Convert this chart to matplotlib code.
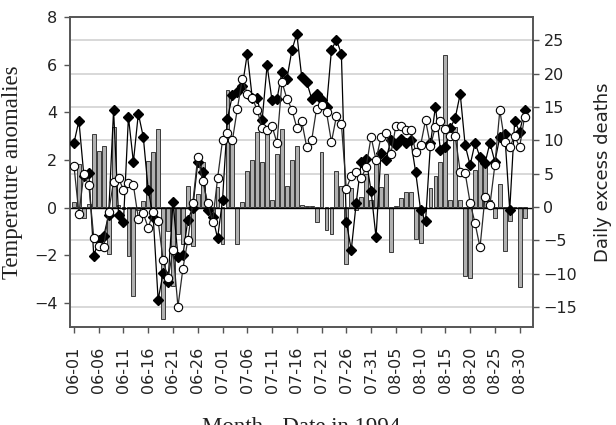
import matplotlib
matplotlib.use('Agg')
import matplotlib.pyplot as plt
import numpy as np

# ---- data ----
tick_labels = ['06-01', '06-06', '06-11', '06-16', '06-21', '06-26', '07-01',
               '07-06', '07-11', '07-16', '07-21', '07-26', '07-31', '08-05',
               '08-10', '08-15', '08-20', '08-25', '08-30']

# temperature anomaly series 1 (black diamonds), 06-01 .. 08-31
temp_black = [2.72, 3.65, 1.35, 1.45, -2.02, -1.35, -1.2, -0.3, 4.09, -0.3,
              -0.58, 3.81, 1.92, 3.95, 2.97, 0.74, -0.38, -3.86, -2.75, -3.1,
              0.25, -2.05, -2.0, -0.5, 0.0, 1.9, 1.5, -0.1, -0.37, -1.28,
              0.32, 3.74, 4.72, 4.85, 5.1, 6.46, 4.62, 4.6, 3.67, 5.97,
              4.5, 4.55, 5.7, 5.4, 6.6, 7.3, 5.48, 5.27, 4.58, 4.79,
              4.5, 4.23, 6.62, 7.04, 6.46, -0.59, -1.77, 0.2, 1.9, 2.05,
              0.7, -1.24, 2.3, 2.02, 2.83, 2.62, 2.9, 2.7, 2.83, 1.5,
              -0.1, -0.57, 2.7, 4.24, 2.43, 2.55, 3.34, 3.77, 4.78, 2.62,
              1.79, 2.72, 2.13, 1.86, 2.72, 1.93, 2.97, 3.11, -0.1, 3.64,
              3.18, 4.09]

# temperature anomaly series 2 (white circles)
temp_white = [1.76, -0.26, 1.41, 0.95, -1.25, -1.6, -1.65, -0.17, 1.1, 1.25,
              0.74, 1.05, 0.95, -0.45, -0.24, -0.84, -0.17, -0.56, -2.19, -2.95,
              -1.77, -4.15, -2.55, -1.35, 0.21, 2.13, 1.12, 0.21, -0.58, 1.23,
              2.83, 3.14, 2.83, 4.16, 5.41, 4.79, 4.62, 4.09, 3.36, 3.25,
              3.42, 2.72, 5.27, 4.58, 4.12, 3.36, 3.63, 2.55, 2.83, 4.16,
              4.3, 4.0, 2.76, 3.84, 3.53, 0.8, 1.32, 1.5, 1.23, 1.7,
              2.97, 2.0, 2.97, 3.14, 2.27, 3.42, 3.42, 3.25, 3.27, 2.34,
              2.62, 3.67, 2.6, 3.4, 3.65, 3.3, 3.0, 3.0, 1.51, 1.46,
              0.21, -0.65, -1.66, 0.44, 0.11, 1.79, 4.09, 2.76, 2.55, 3.0,
              2.55, 3.81]

# daily excess deaths (grey bars, right axis)
excess_deaths = [0.7, 6.5, -1.6, 0.4, 11.0, 8.4, 9.1, -7.0, 12.0, 0.3,
                 -0.3, -7.3, -13.3, -0.5, 0.9, 6.9, 8.2, 11.7, -16.8, -3.6,
                 -11.8, -4.0, -5.6, 3.1, -5.9, 2.0, 6.7, 0.5, -1.4, 3.0,
                 -5.5, 17.6, 10.1, -5.6, 0.7, 5.4, 7.0, 11.3, 6.7, 11.0,
                 1.0, 8.0, 11.7, 3.2, 7.0, 9.1, 0.3, 0.2, 0.1, -2.2,
                 8.3, -3.4, -4.1, 5.4, 3.1, -8.5, 2.9, -0.5, 1.5, 4.9,
                 1.0, 7.0, 3.0, 5.0, -6.8, 0.15, 1.4, 2.2, 2.2, -4.85,
                 -5.35, 0.0, 2.9, 4.65, 6.8, 22.8, 1.1, 12.0, 1.0, -10.4,
                 -10.6, 5.6, 8.0, 7.0, 1.0, -1.6, 3.4, -6.6, -2.1, 0.0,
                 -12.0, -1.6]

left_ticks = [-4, -2, 0, 2, 4, 6, 8]
right_ticks = [-15, -10, -5, 0, 5, 10, 15, 20, 25]

# ---- figure ----
W, H = 616, 425
fig = plt.figure(figsize=(W / 100, H / 100), dpi=100)
ax = fig.add_axes([70 / W, 1 - 327 / H, 463 / W, 310 / H])
ax2 = ax.twinx()
ax.set_zorder(2)
ax2.set_zorder(1)
ax.patch.set_visible(False)
ax2.patch.set_facecolor('white')

x = np.arange(len(excess_deaths))

# grid lines at right-axis ticks
for v in right_ticks:
    if v != 0:
        ax2.axhline(v, color='#d6d6d6', lw=1.3, zorder=0)

ax2.bar(x, excess_deaths, width=0.78, color='#b0b0b0', edgecolor='#3a3a3a',
        linewidth=0.7, zorder=2)
ax2.set_ylim(-18, 28.5)
ax2.set_yticks(right_ticks)

ax.axhline(0, color='black', lw=1.0, zorder=1)
ax.plot(x, temp_black, color='black', lw=0.9, marker='D', ms=5.0,
        mfc='black', mec='black', zorder=3)
ax.plot(x, temp_white, color='#2a2a2a', lw=0.9, marker='o', ms=6.0,
        mfc='white', mec='black', mew=0.8, zorder=4)

ax.set_ylim(-5, 8)
ax.set_yticks(left_ticks)
ax.set_xlim(-0.8, 92.7)
ax.set_xticks(np.arange(0, len(excess_deaths), 5))
ax.set_xticklabels(tick_labels, rotation=90, fontsize=12,
                   fontfamily='DejaVu Sans', color='#222222')

for a in (ax, ax2):
    for s in a.spines.values():
        s.set_color('#555555')
        s.set_linewidth(1.2)
    a.tick_params(direction='out', length=4, width=1.0, color='#555555',
                  labelsize=11.5, labelcolor='#222222')
ax.tick_params(axis='x', pad=10)
ax.tick_params(axis='y', pad=5)

ax.set_ylabel('Temperature anomalies', fontfamily='Liberation Serif',
              fontsize=16.5, color='#222222', labelpad=8)
ax2.set_ylabel('Daily excess deaths', fontfamily='DejaVu Sans',
               fontsize=13, color='#222222', labelpad=12)

fig.text((70 + 533) / 2 / W, 1 - 417 / H, 'Month - Date in 1994',
         fontfamily='Liberation Serif', fontsize=16.5, ha='center', va='top',
         color='#222222')

fig.savefig('out.png', dpi=100)
